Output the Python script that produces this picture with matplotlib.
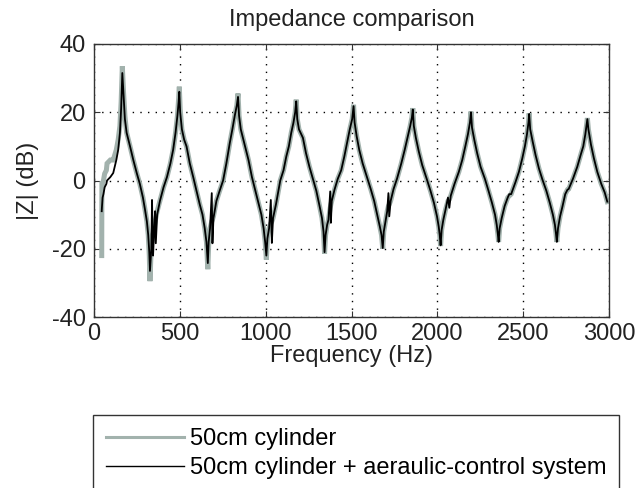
import matplotlib
matplotlib.use("Agg")
import matplotlib.pyplot as plt
from matplotlib.lines import Line2D

# frequency points (Hz), shared by both curves
freq = [45, 46, 50, 55, 62, 72, 76, 95, 112, 130, 141, 151, 158, 165,
        172, 180, 190, 210, 229, 250, 267, 285, 297, 308, 316, 322, 326,
        330, 334, 338, 344, 350, 356, 360, 368, 384, 405, 425, 445, 461, 475, 486, 493, 497,
        502, 512, 525, 539, 558, 578, 597, 616, 632, 645, 655, 663,
        668, 676, 686, 690, 696, 713, 732, 752, 771, 791, 806, 820, 832, 839,
        845, 855, 870, 885, 900, 920, 940, 960, 975, 988, 997, 1004,
        1010, 1020, 1030, 1036, 1043, 1060, 1085, 1104, 1120, 1135, 1149, 1162, 1172, 1178,
        1184, 1194, 1217, 1235, 1255, 1275, 1295, 1314, 1328, 1337, 1343,
        1349, 1358, 1366, 1376, 1380, 1385, 1401, 1420, 1440, 1458, 1474, 1490, 1504, 1512,
        1518, 1530, 1545, 1565, 1590, 1612, 1632, 1652, 1665, 1675, 1682,
        1688, 1698, 1708, 1715, 1720, 1728, 1745, 1765, 1790, 1810, 1828, 1842, 1852, 1857,
        1863, 1875, 1892, 1912, 1938, 1960, 1980, 1998, 2008, 2014, 2019,
        2025, 2035, 2048, 2062, 2070, 2078, 2100, 2125, 2145, 2163, 2178, 2190, 2196,
        2202, 2215, 2232, 2252, 2277, 2298, 2318, 2336, 2346, 2352, 2357,
        2363, 2375, 2392, 2410, 2419, 2430, 2455, 2475, 2495, 2510, 2522, 2531, 2535,
        2541, 2555, 2572, 2592, 2612, 2635, 2655, 2673, 2685, 2691, 2696,
        2703, 2715, 2729, 2745, 2758, 2765, 2790, 2815, 2835, 2850, 2862, 2870, 2874,
        2880, 2895, 2912, 2932, 2955, 2975, 2990]

# 50cm cylinder (dB)
z_cyl = [-22, -1, -1, 0, 2, 3, 5, 6, 6, 9, 12, 16, 23, 33.5,
         26, 19, 14, 10, 6, 2, -1, -5, -8.5, -12, -16, -22, -29.5,
         -24, -19, -17, -16, -14, -12, -11, -9, -6, -2, 1, 5, 9, 14, 19, 24, 27.5,
         21, 15, 12, 10, 5, 1, -3, -7, -10, -14, -18, -26,
         -19, -14, -12, -11.5, -10.5, -6, -3, 0, 5, 11, 15, 19, 22, 25.5,
         19, 15, 12, 9, 6, 1, -3, -7, -10, -14, -18, -23.2,
         -17, -14, -12.5, -12, -11, -7, 0, 3, 7, 10, 14, 17, 20, 23.7,
         18, 15, 12.5, 8, 4, 0.5, -3, -7.5, -11, -15, -21.5,
         -16, -13, -11.5, -8, -7, -6, -2.7, 0.5, 3, 7, 11, 15, 18, 22.2,
         17, 13, 9, 5, 1, -2.5, -6, -10.5, -13.5, -16, -20,
         -15, -12, -9, -7.5, -7, -6, -2.5, 0.5, 5, 9, 13, 16, 18.5, 21.2,
         16, 12.5, 8.5, 4.5, 0.5, -3, -6.5, -10.5, -13.5, -16, -19.2,
         -14.5, -11.5, -8.5, -6, -5.5, -4.5, -1, 2.5, 6, 10, 13.5, 17, 20.2,
         15.5, 12, 8, 4, 0.5, -3, -6.5, -10, -13, -15.5, -18,
         -14, -11, -7.5, -5, -4.5, -4, -0.5, 2.5, 6.5, 10, 13.5, 17, 19.7,
         15, 11.5, 7.5, 3.5, 0.3, -3, -6.5, -10, -13, -15.5, -18,
         -14, -10.5, -7.6, -4, -2.7, -2.5, 0.5, 4, 7.5, 10, 13.5, 16.5, 18.3,
         15, 10.5, 6.5, 2.5, -1, -3.5, -6.2]

# 50cm cylinder + aeraulic-control system (dB)
z_ctrl = [-9, -8, -5, -4, -2, -1, 0, 1, 2.2, 6, 9, 14, 21, 31.5,
          25, 18, 14, 10, 6, 2, -1, -5, -8.5, -12, -16, -21, -26.5,
          -23, -20, -5.7, -22, -15, -9, -18.4, -10, -6, -2, 1, 5, 9, 14, 19, 23, 26,
          20, 15, 12, 10, 5, 1, -3, -7, -10, -14, -18, -24.2,
          -18, -14, -3.7, -18.4, -11, -6, -3, 0, 5, 11, 15, 19, 22, 24.5,
          19, 15, 12, 9, 6, 1, -3, -7, -10, -14, -18, -22,
          -17, -14, -5.7, -18.3, -11, -7, 0, 3, 7, 10, 14, 17, 20, 23.2,
          18, 15, 12.5, 8, 4, 0.5, -3, -7.5, -11, -15, -21,
          -16, -13, -11.5, -3.2, -12.4, -6, -2.7, 0.5, 3, 7, 11, 15, 18, 21.8,
          17, 13, 9, 5, 1, -2.5, -6, -10.5, -13.5, -16, -19.8,
          -15, -12, -9, -3.7, -10.5, -6, -2.5, 0.5, 5, 9, 13, 16, 18.5, 20.8,
          16, 12.5, 8.5, 4.5, 0.5, -3, -6.5, -10.5, -13.5, -16, -19,
          -14.5, -11.5, -8.5, -5, -8, -4.5, -1, 2.5, 6, 10, 13.5, 17, 20,
          15.5, 12, 8, 4, 0.5, -3, -6.5, -10, -13, -15.5, -18,
          -14, -11, -7.5, -5, -4, -4, -0.5, 2.5, 6.5, 10, 13.5, 17, 19.5,
          15, 11.5, 7.5, 3.5, 0.3, -3, -6.5, -10, -13, -15.5, -18,
          -14, -10.5, -7.6, -4, -2.7, -2.5, 0.5, 4, 7.5, 10, 13.5, 16.5, 18,
          15, 10.5, 6.5, 2.5, -1, -3.5, -6.2]

labels = ["50cm cylinder", "50cm cylinder + aeraulic-control system"]
xticks = [0, 500, 1000, 1500, 2000, 2500, 3000]
yticks = [-40, -20, 0, 20, 40]

gray = "#a2b2ad"

plt.rcParams["font.family"] = ["Liberation Sans", "DejaVu Sans"]
plt.rcParams["font.size"] = 17
plt.rcParams["axes.unicode_minus"] = False

fig = plt.figure(figsize=(6.39, 4.88), dpi=100)
ax = fig.add_axes([94 / 639, 1 - 317 / 488, 515 / 639, 273 / 488])

ax.plot(freq, z_cyl, color=gray, lw=3.6, solid_joinstyle="miter")
ax.plot(freq, z_ctrl, color="black", lw=1.3)

ax.set_xlim(0, 3000)
ax.set_ylim(-40, 40)
ax.set_xticks(xticks)
ax.set_yticks(yticks)
ax.grid(True, color="black", linestyle=(0, (1, 4.5)), lw=1.0)
ax.tick_params(direction="in", top=True, right=True, length=4, width=0.8,
               color="#333333", labelcolor="#222222")
ax.tick_params(axis="x", pad=4)
ax.tick_params(axis="y", pad=6)
for s in ax.spines.values():
    s.set_color("#333333")
    s.set_linewidth(1.0)

ax.set_xlabel("Frequency (Hz)", labelpad=0, color="#222222")
ax.set_ylabel("|Z| (dB)", labelpad=9, color="#222222")
ax.set_title("Impedance comparison", fontsize=17, pad=13, color="#222222")

handles = [Line2D([], [], color=gray, lw=2.2), Line2D([], [], color="black", lw=1.0)]
leg = fig.legend(handles, labels, loc="upper left", bbox_to_anchor=(93 / 639, 1 - 415 / 488),
                 frameon=True, fancybox=False, framealpha=1, edgecolor="#333333",
                 handlelength=3.3, handletextpad=0.25, labelspacing=0.3,
                 borderpad=0.55, borderaxespad=0, fontsize=17)
leg.get_frame().set_linewidth(1.0)

fig.savefig("out.png", dpi=100)
